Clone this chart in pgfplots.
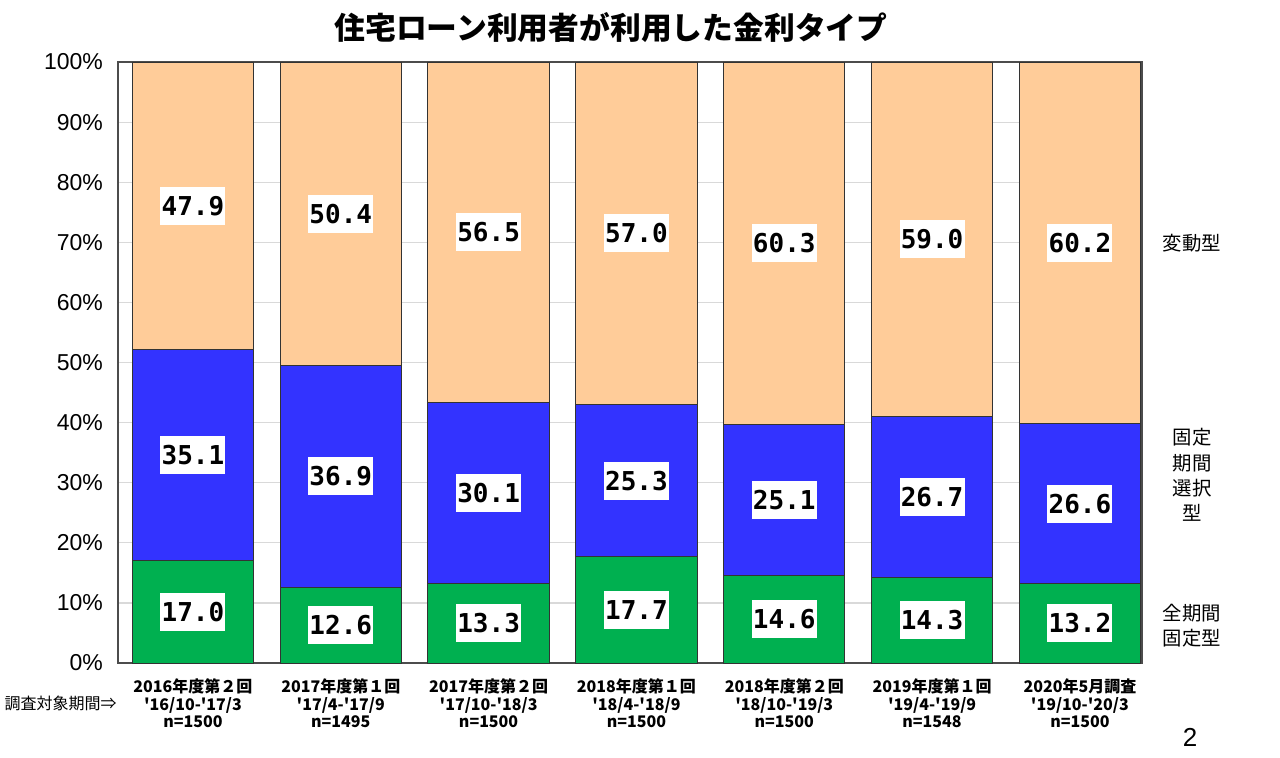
\documentclass[border=0pt]{standalone}
\usepackage{pgfplots}
\pgfplotsset{compat=1.18}
\usepackage{pgfplotstable}
\usepackage{fontspec}
\setmainfont{Liberation Sans}
\newfontfamily\jp{Noto Sans CJK JP}
\newfontfamily\mono{DejaVu Sans Mono}
\definecolor{greenc}{HTML}{00B050}
\definecolor{bluec}{HTML}{3333FF}
\definecolor{orangec}{HTML}{FFCC99}
\pgfplotstableread{
x green blue orange
0 17.0 35.1 47.9
1 12.6 36.9 50.4
2 13.3 30.1 56.5
3 17.7 25.3 57.0
4 14.6 25.1 60.3
5 14.3 26.7 59.0
6 13.2 26.6 60.2
}\datatable
\begin{document}
\begin{tikzpicture}
\begin{axis}[
  at={(59pt,47pt)}, anchor=south west,
  scale only axis, width=512pt, height=300.5pt,
  ybar stacked, bar width=0.82,
  xmin=-0.507, xmax=6.42, ymin=0, ymax=100,
  xtick=data,
  xticklabels={
    {\bfseries 2016年度第２回\\\bfseries '16/10-'17/3\\\bfseries n=1500},
    {\bfseries 2017年度第１回\\\bfseries '17/4-'17/9\\\bfseries n=1495},
    {\bfseries 2017年度第２回\\\bfseries '17/10-'18/3\\\bfseries n=1500},
    {\bfseries 2018年度第１回\\\bfseries '18/4-'18/9\\\bfseries n=1500},
    {\bfseries 2018年度第２回\\\bfseries '18/10-'19/3\\\bfseries n=1500},
    {\bfseries 2019年度第１回\\\bfseries '19/4-'19/9\\\bfseries n=1548},
    {\bfseries 2020年5月調査\\\bfseries '19/10-'20/3\\\bfseries n=1500}},
  xticklabel style={align=center, font=\jp\fontsize{8}{8.75}\selectfont, yshift=-4.5pt},
  ytick={0,10,...,100},
  yticklabel={\pgfmathprintnumber{\tick}\%},
  yticklabel style={font=\fontsize{11.5}{12}\selectfont, xshift=-4pt},
  /pgf/number format/assume math mode=true,
  major tick length=0pt,
  ymajorgrids, grid style={black!15, line width=0.6pt},
  axis line style={black!70, line width=0.6pt},
  visualization depends on={rawy \as \rawy},
  nodes near coords={\pgfmathprintnumber[fixed,fixed zerofill,precision=1]{\rawy}},
  every node near coord/.append style={anchor=center, fill=white, inner sep=0pt,
     minimum width=32.5pt, minimum height=19pt,
     font=\mono\bfseries\fontsize{13}{13}\selectfont, text=black},
]
\addplot[fill=greenc, draw=black!80, line width=0.5pt] table[x=x, y=green] {\datatable};
\addplot[fill=bluec, draw=black!80, line width=0.5pt] table[x=x, y=blue] {\datatable};
\addplot[fill=orangec, draw=black!80, line width=0.5pt] table[x=x, y=orange] {\datatable};
\end{axis}
\node[font=\jp\bfseries\fontsize{15.4}{16}\selectfont] at (305.5pt,364.5pt) {住宅ローン利用者が利用した金利タイプ};
\node[font=\jp\fontsize{9.7}{12.7}\selectfont, align=center] at (596pt,257pt) {変動型};
\node[font=\jp\fontsize{9.7}{12.7}\selectfont, align=center] at (596pt,141pt) {固定\\期間\\選択\\型};
\node[font=\jp\fontsize{9.7}{12.7}\selectfont, align=center] at (596pt,65.75pt) {全期間\\固定型};
\node[font=\jp\fontsize{8}{8.75}\selectfont, anchor=east, inner sep=0pt] at (58.5pt,27pt) {調査対象期間⇒};
\node[font=\fontsize{13}{13}\selectfont] at (595pt,10pt) {2};
\pgfresetboundingbox
\path (0,0) rectangle (640pt,378.5pt);
\end{tikzpicture}
\end{document}
